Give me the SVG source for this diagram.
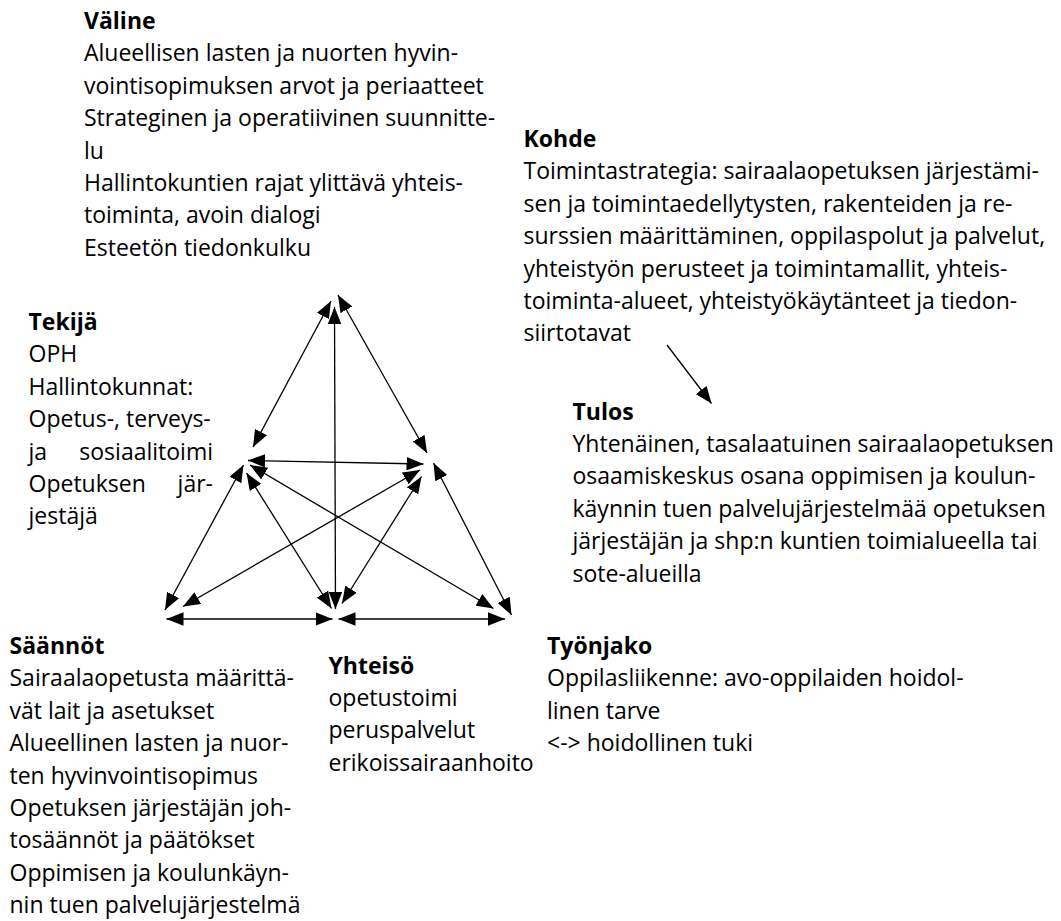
<svg xmlns="http://www.w3.org/2000/svg" width="1061" height="921" viewBox="0 0 1061 921">
  <style>
    text { font-family: "Open Sans", Lato, "Liberation Sans", sans-serif; font-size: 23px; fill: #000; font-variant-ligatures: none; }
    .h { font-weight: bold; }
    .c { stroke: #000; stroke-width: 1.3; fill: none; }
    .both { marker-start: url(#head); marker-end: url(#head); }
    .one { marker-end: url(#head); }
  </style>
  <defs>
    <marker id="head" viewBox="0 0 17 13.5" refX="17" refY="6.75" markerWidth="17" markerHeight="13.5" markerUnits="userSpaceOnUse" orient="auto-start-reverse">
      <path d="M0,0 L17,6.75 L0,13.5 z" fill="#000"/>
    </marker>
  </defs>
  <rect width="1061" height="921" fill="#fff"/>

  <!-- connectors of the activity triangle -->
  <g id="connectors">
    <line class="c both" x1="331" y1="301" x2="253" y2="447"/>
    <line class="c both" x1="338" y1="295" x2="427" y2="453"/>
    <line class="c both" x1="334.5" y1="307" x2="335.5" y2="609"/>
    <line class="c both" x1="248" y1="460.5" x2="423.5" y2="464"/>
    <line class="c both" x1="243.5" y1="465" x2="165" y2="610"/>
    <line class="c both" x1="250" y1="465" x2="493.5" y2="608.5"/>
    <line class="c both" x1="246.5" y1="473" x2="331.5" y2="608.5"/>
    <line class="c both" x1="420" y1="470" x2="183" y2="606.5"/>
    <line class="c both" x1="421.5" y1="476.5" x2="342" y2="603.5"/>
    <line class="c both" x1="433.5" y1="463" x2="511.5" y2="615"/>
    <line class="c both" x1="166.5" y1="619" x2="332.5" y2="619"/>
    <line class="c both" x1="338.5" y1="619" x2="505" y2="619"/>
    <line class="c one" x1="667" y1="345" x2="711.5" y2="403.5"/>
  </g>

  <g id="valine">
    <text class="h" x="84" y="29">Väline</text>
    <text x="84" y="61.4">Alueellisen lasten ja nuorten hyvin-</text>
    <text x="84" y="93.8">vointisopimuksen arvot ja periaatteet</text>
    <text x="84" y="126.2">Strateginen ja operatiivinen suunnitte-</text>
    <text x="84" y="158.6">lu</text>
    <text x="84" y="191">Hallintokuntien rajat ylittävä yhteis-</text>
    <text x="84" y="223.4">toiminta, avoin dialogi</text>
    <text x="84" y="255.8">Esteetön tiedonkulku</text>
  </g>

  <g id="kohde">
    <text class="h" x="523.5" y="147">Kohde</text>
    <text x="523.5" y="179.4">Toimintastrategia: sairaalaopetuksen järjestämi-</text>
    <text x="523.5" y="211.8">sen ja toimintaedellytysten, rakenteiden ja re-</text>
    <text x="523.5" y="244.2">surssien määrittäminen, oppilaspolut ja palvelut,</text>
    <text x="523.5" y="276.6">yhteistyön perusteet ja toimintamallit, yhteis-</text>
    <text x="523.5" y="309">toiminta-alueet, yhteistyökäytänteet ja tiedon-</text>
    <text x="523.5" y="341.4">siirtotavat</text>
  </g>

  <g id="tekija">
    <text class="h" x="28.5" y="330">Tekijä</text>
    <text x="28.5" y="362.4">OPH</text>
    <text x="28.5" y="394.8">Hallintokunnat:</text>
    <text x="28.5" y="427.2">Opetus-, terveys-</text>
    <text x="28.5" y="459.6">ja</text>
    <text x="213" y="459.6" text-anchor="end">sosiaalitoimi</text>
    <text x="28.5" y="492">Opetuksen</text>
    <text x="213" y="492" text-anchor="end">jär-</text>
    <text x="28.5" y="524.4">jestäjä</text>
  </g>

  <g id="tulos">
    <text class="h" x="572.5" y="419.5">Tulos</text>
    <text x="572.5" y="451.9">Yhtenäinen, tasalaatuinen sairaalaopetuksen</text>
    <text x="572.5" y="484.3">osaamiskeskus osana oppimisen ja koulun-</text>
    <text x="572.5" y="516.7">käynnin tuen palvelujärjestelmää opetuksen</text>
    <text x="572.5" y="549.1">järjestäjän ja shp:n kuntien toimialueella tai</text>
    <text x="572.5" y="581.5">sote-alueilla</text>
  </g>

  <g id="saannot">
    <text class="h" x="9.5" y="654">Säännöt</text>
    <text x="9.5" y="686.4">Sairaalaopetusta määrittä-</text>
    <text x="9.5" y="718.8">vät lait ja asetukset</text>
    <text x="9.5" y="751.2">Alueellinen lasten ja nuor-</text>
    <text x="9.5" y="783.6">ten hyvinvointisopimus</text>
    <text x="9.5" y="816">Opetuksen järjestäjän joh-</text>
    <text x="9.5" y="848.4">tosäännöt ja päätökset</text>
    <text x="9.5" y="880.8">Oppimisen ja koulunkäyn-</text>
    <text x="9.5" y="913.2">nin tuen palvelujärjestelmä</text>
  </g>

  <g id="yhteiso">
    <text class="h" x="328.5" y="673.5">Yhteisö</text>
    <text x="328.5" y="705.9">opetustoimi</text>
    <text x="328.5" y="738.3">peruspalvelut</text>
    <text x="328.5" y="770.7">erikoissairaanhoito</text>
  </g>

  <g id="tyonjako">
    <text class="h" x="547" y="654">Työnjako</text>
    <text x="547" y="686.4">Oppilasliikenne: avo-oppilaiden hoidol-</text>
    <text x="547" y="718.8">linen tarve</text>
    <text x="547" y="751.2">&lt;-&gt; hoidollinen tuki</text>
  </g>
</svg>
